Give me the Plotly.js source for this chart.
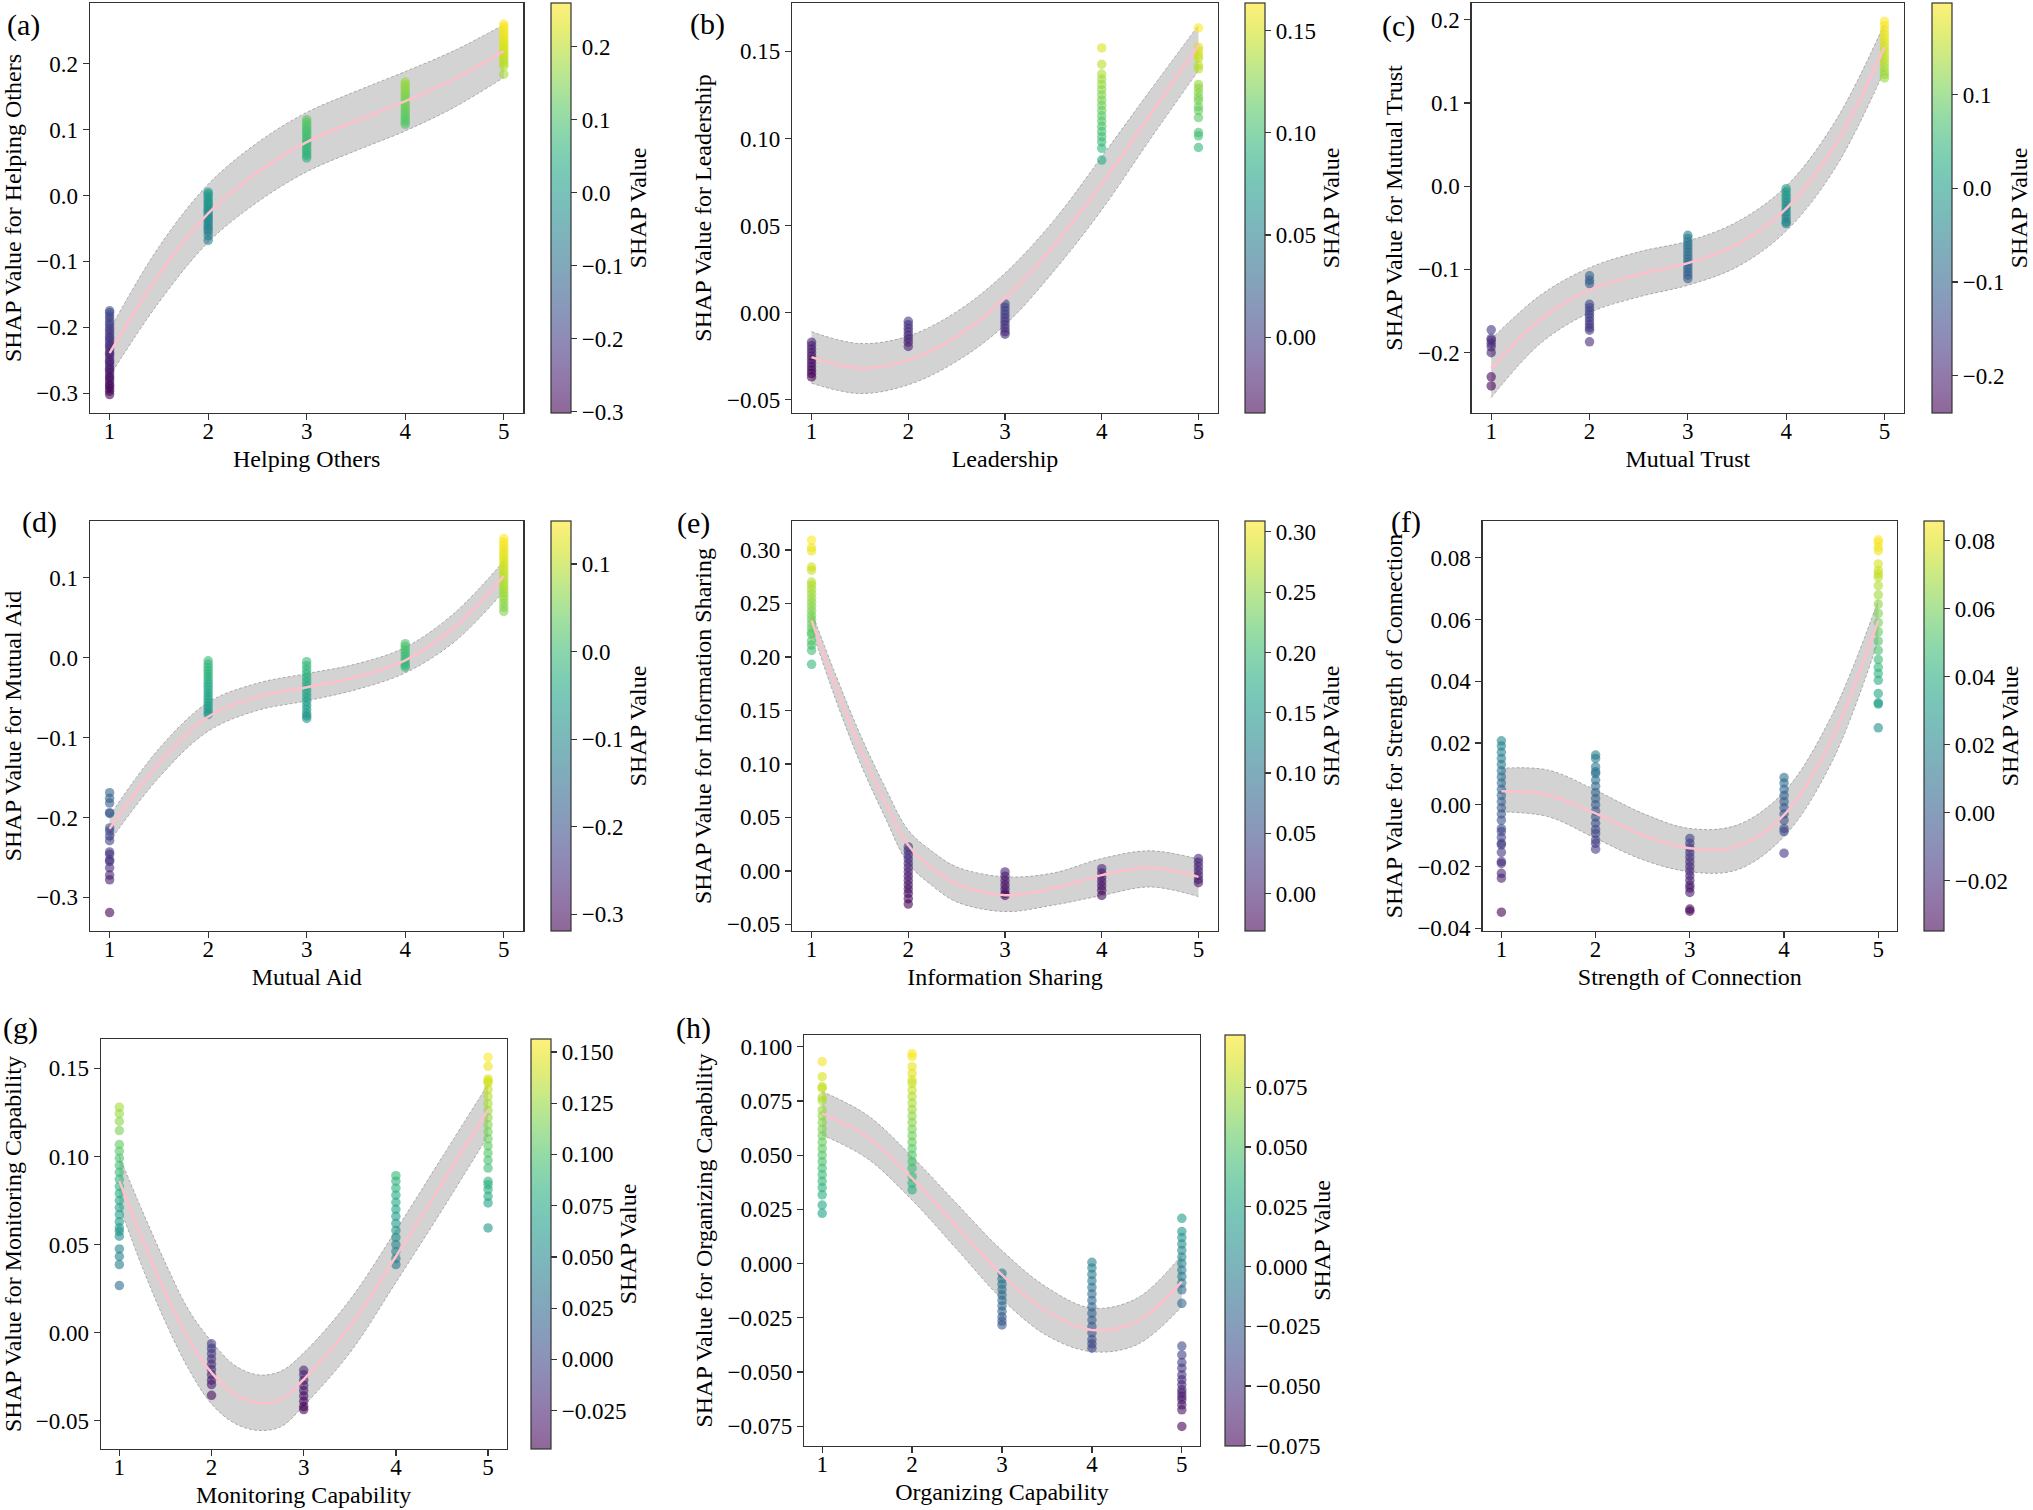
<!DOCTYPE html>
<html>
<head>
<meta charset="utf-8">
<script src="https://cdn.plot.ly/plotly-3.0.1.min.js"></script>
<style>html,body{margin:0;padding:0;background:#fff;}#chart{width:2033px;height:1510px;}</style>
</head>
<body>
<div id="chart"></div>
<script>
// ---------- data ----------
const xLevels = [1, 2, 3, 4, 5];

// SHAP values per feature level (index 0 -> level 1, ... index 4 -> level 5)
const helpingOthersShap = [
  [-0.175,-0.178,-0.183,-0.187,-0.192,-0.196,-0.201,-0.205,-0.209,-0.214,-0.217,-0.221,-0.226,-0.229,-0.233,-0.238,-0.241,-0.245,-0.250,-0.253,-0.257,-0.262,-0.265,-0.269,-0.274,-0.277,-0.281,-0.286,-0.289,-0.293,-0.297,-0.302],
  [0.005,0.002,-0.002,-0.006,-0.010,-0.013,-0.017,-0.021,-0.024,-0.028,-0.032,-0.035,-0.039,-0.043,-0.047,-0.051,-0.055,-0.061,-0.068],
  [0.115,0.111,0.107,0.103,0.099,0.096,0.092,0.088,0.084,0.080,0.077,0.073,0.069,0.065,0.061,0.057],
  [0.172,0.168,0.164,0.160,0.156,0.152,0.148,0.144,0.140,0.136,0.132,0.128,0.124,0.120,0.116,0.112,0.108],
  [0.260,0.256,0.252,0.248,0.244,0.240,0.236,0.232,0.228,0.224,0.220,0.216,0.212,0.208,0.204,0.200,0.196,0.184]
];
const leadershipShap = [
  [-0.017,-0.019,-0.021,-0.023,-0.025,-0.027,-0.029,-0.031,-0.033,-0.035,-0.037],
  [-0.005,-0.007,-0.009,-0.011,-0.013,-0.015,-0.017,-0.0195],
  [0.005,0.003,0.001,-0.001,-0.003,-0.005,-0.007,-0.009,-0.011,-0.0124],
  [0.152,0.1426,0.137,0.134,0.131,0.128,0.125,0.122,0.119,0.116,0.113,0.110,0.107,0.104,0.101,0.098,0.0943,0.0876],
  [0.1635,0.1524,0.1505,0.1477,0.146,0.142,0.140,0.131,0.1289,0.1264,0.1236,0.1217,0.1182,0.116,0.112,0.1034,0.1015,0.0948]
];
const mutualTrustShap = [
  [-0.1726,-0.183,-0.185,-0.189,-0.193,-0.200,-0.229,-0.240],
  [-0.1077,-0.113,-0.117,-0.142,-0.146,-0.150,-0.154,-0.158,-0.162,-0.166,-0.170,-0.173,-0.187],
  [-0.059,-0.063,-0.067,-0.071,-0.075,-0.079,-0.083,-0.087,-0.091,-0.095,-0.099,-0.103,-0.107,-0.111],
  [-0.003,-0.007,-0.011,-0.015,-0.019,-0.023,-0.027,-0.031,-0.035,-0.039,-0.043,-0.045],
  [0.198,0.193,0.188,0.183,0.178,0.173,0.168,0.163,0.158,0.153,0.148,0.143,0.138,0.134,0.130]
];
const mutualAidShap = [
  [-0.169,-0.176,-0.182,-0.194,-0.195,-0.213,-0.217,-0.223,-0.229,-0.243,-0.246,-0.253,-0.255,-0.263,-0.272,-0.278,-0.319],
  [-0.004,-0.008,-0.012,-0.016,-0.020,-0.024,-0.028,-0.032,-0.036,-0.040,-0.044,-0.048,-0.052,-0.056,-0.060,-0.064,-0.068,-0.071],
  [-0.005,-0.010,-0.015,-0.020,-0.025,-0.030,-0.035,-0.040,-0.045,-0.050,-0.055,-0.060,-0.065,-0.070,-0.073,-0.076],
  [0.0175,0.014,0.010,0.006,0.002,-0.002,-0.006,-0.009,-0.012],
  [0.149,0.145,0.141,0.137,0.133,0.129,0.125,0.121,0.117,0.113,0.109,0.105,0.101,0.097,0.093,0.089,0.085,0.081,0.077,0.073,0.068,0.063,0.058]
];
const infoSharingShap = [
  [0.309,0.302,0.299,0.284,0.281,0.270,0.267,0.263,0.259,0.255,0.251,0.247,0.243,0.239,0.235,0.231,0.227,0.223,0.221,0.215,0.211,0.206,0.193],
  [0.0224,0.019,0.015,0.011,0.007,0.003,-0.001,-0.005,-0.009,-0.013,-0.017,-0.021,-0.026,-0.031],
  [-0.001,-0.005,-0.009,-0.013,-0.017,-0.021,-0.023],
  [0.002,-0.002,-0.006,-0.010,-0.014,-0.018,-0.023],
  [0.0115,0.008,0.004,0.000,-0.004,-0.008,-0.011]
];
const connectionShap = [
  [0.0207,0.019,0.017,0.015,0.013,0.011,0.009,0.007,0.005,0.003,0.001,-0.001,-0.003,-0.005,-0.0077,-0.0087,-0.0106,-0.0125,-0.013,-0.0154,-0.0184,-0.019,-0.0222,-0.0238,-0.0348],
  [0.0161,0.015,0.0123,0.0107,0.0101,0.008,0.006,0.004,0.002,0.000,-0.002,-0.004,-0.006,-0.008,-0.0093,-0.0114,-0.0125,-0.0144],
  [-0.0109,-0.0125,-0.014,-0.0155,-0.017,-0.0185,-0.020,-0.0215,-0.023,-0.0245,-0.026,-0.027,-0.0284,-0.0338,-0.0345],
  [0.0088,0.007,0.005,0.003,0.001,-0.001,-0.003,-0.005,-0.0077,-0.0087,-0.0157],
  [0.0858,0.085,0.0834,0.0823,0.078,0.0759,0.0748,0.0737,0.071,0.068,0.065,0.062,0.059,0.056,0.053,0.050,0.047,0.0445,0.0425,0.0403,0.036,0.033,0.0326,0.0249]
];
const monitoringShap = [
  [0.128,0.1243,0.120,0.1147,0.1068,0.103,0.099,0.095,0.091,0.087,0.083,0.079,0.075,0.071,0.067,0.063,0.0595,0.0575,0.0547,0.0475,0.0433,0.0386,0.0267],
  [-0.0064,-0.009,-0.012,-0.015,-0.018,-0.021,-0.024,-0.027,-0.0295,-0.0356],
  [-0.0214,-0.024,-0.027,-0.030,-0.033,-0.036,-0.039,-0.042,-0.0437],
  [0.0891,0.086,0.082,0.078,0.074,0.070,0.066,0.062,0.058,0.054,0.050,0.046,0.042,0.0386],
  [0.1563,0.1512,0.144,0.1427,0.1418,0.138,0.134,0.130,0.126,0.122,0.118,0.114,0.110,0.106,0.1019,0.0978,0.0934,0.0859,0.084,0.0812,0.0774,0.0736,0.0594]
];
const organizingShap = [
  [0.0931,0.0862,0.0816,0.0808,0.0766,0.0751,0.0708,0.068,0.065,0.062,0.059,0.056,0.053,0.050,0.047,0.044,0.041,0.038,0.035,0.0317,0.027,0.0232],
  [0.0969,0.0954,0.0908,0.0877,0.0846,0.0831,0.080,0.077,0.074,0.071,0.068,0.065,0.062,0.059,0.056,0.053,0.050,0.047,0.044,0.0401,0.037,0.034],
  [-0.0045,-0.007,-0.0095,-0.012,-0.0145,-0.017,-0.0195,-0.022,-0.0245,-0.0265,-0.0283],
  [0.0006,-0.002,-0.005,-0.008,-0.011,-0.014,-0.017,-0.020,-0.023,-0.026,-0.029,-0.032,-0.035,-0.037,-0.039],
  [0.0209,0.0148,0.012,0.009,0.006,0.003,0.000,-0.003,-0.006,-0.009,-0.0121,-0.0183,-0.038,-0.0421,-0.0456,-0.0482,-0.0513,-0.0536,-0.0559,-0.0582,-0.0597,-0.0613,-0.0628,-0.0651,-0.0674,-0.0751]
];

// fitted curves and confidence bands (read at these x positions)
const fitX = [1, 1.5, 2, 2.5, 3, 3.5, 4, 4.5, 5];
const fitXE = [1, 1.25, 1.5, 1.75, 2, 2.25, 2.5, 3, 3.5, 4, 4.5, 5];
const fitXG = [1, 1.25, 1.5, 1.75, 2, 2.25, 2.5, 2.75, 3, 3.5, 4, 4.5, 5];

const fitA = [-0.239,-0.120,-0.027,0.035,0.081,0.113,0.143,0.177,0.219];
const upA  = [-0.204,-0.078,0.017,0.080,0.126,0.158,0.188,0.220,0.259];
const loA  = [-0.274,-0.162,-0.071,-0.010,0.036,0.068,0.098,0.134,0.179];

const fitB = [-0.0256,-0.0320,-0.0272,-0.0138,0.0082,0.0380,0.0742,0.1135,0.1535];
const upB  = [-0.0110,-0.0178,-0.0135,0.0005,0.0226,0.0525,0.0895,0.1275,0.1650];
const loB  = [-0.0406,-0.0465,-0.0415,-0.0280,-0.0071,0.0235,0.0590,0.0995,0.1390];

const fitC = [-0.219,-0.160,-0.125,-0.106,-0.0925,-0.070,-0.027,0.050,0.167];
const upC  = [-0.184,-0.131,-0.098,-0.079,-0.066,-0.043,0.000,0.078,0.195];
const loC  = [-0.254,-0.189,-0.152,-0.133,-0.119,-0.097,-0.054,0.022,0.139];

const fitD = [-0.214,-0.132,-0.074,-0.049,-0.037,-0.024,-0.0033,0.038,0.102];
const upD  = [-0.198,-0.114,-0.056,-0.032,-0.020,-0.008,0.013,0.056,0.121];
const loD  = [-0.230,-0.150,-0.092,-0.066,-0.054,-0.040,-0.019,0.020,0.083];

const fitE = [0.234,0.172,0.1156,0.0656,0.024,0.0022,-0.012,-0.0228,-0.0165,-0.004,0.0028,-0.0056];
const upE  = [0.242,0.183,0.128,0.080,0.038,0.018,0.0037,-0.0056,-0.002,0.0115,0.0187,0.011];
const loE  = [0.226,0.160,0.1015,0.052,0.0069,-0.014,-0.029,-0.038,-0.032,-0.023,-0.015,-0.024];

const fitF = [0.0044,0.0031,-0.0028,-0.0098,-0.0141,-0.0135,-0.0033,0.0209,0.0597];
const upF  = [0.0118,0.0112,0.0047,-0.0028,-0.0077,-0.0066,0.0042,0.0285,0.0662];
const loF  = [-0.0023,-0.0039,-0.0109,-0.0178,-0.0217,-0.0211,-0.0103,0.0134,0.0532];

const fitG = [0.0861,0.0530,0.0227,-0.0038,-0.0227,-0.0350,-0.0398,-0.0379,-0.0265,0.0035,0.0432,0.0845,0.1264];
const upG  = [0.1000,0.0690,0.0395,0.0130,-0.0050,-0.0185,-0.0240,-0.0220,-0.0115,0.0185,0.0580,0.0995,0.1410];
const loG  = [0.0720,0.0370,0.0060,-0.0205,-0.0405,-0.0515,-0.0555,-0.0535,-0.0415,-0.0115,0.0285,0.0695,0.1118];

const fitH = [0.0693,0.0585,0.0393,0.0170,-0.0052,-0.0221,-0.0306,-0.0267,-0.0083];
const upH  = [0.0793,0.0685,0.0493,0.0275,0.0060,-0.0110,-0.0205,-0.0160,0.0040];
const loH  = [0.0593,0.0485,0.0293,0.0065,-0.0164,-0.0332,-0.0406,-0.0374,-0.0198];

// ---------- layout configuration ----------
const W = 2033, H = 1510;
const panels = [
  {lbl:'(a)', xt:'Helping Others', yt:'SHAP Value for Helping Others', shap:helpingOthersShap, fx:fitX, fy:fitA, up:upA, lo:loA,
   dom:[90,524,3,413], cb:552, yr:[-0.330,0.292], yd:0.1, yf:'.1f', cbd:0.1, cbf:'.1f', lx:24, ly:25},
  {lbl:'(b)', xt:'Leadership', yt:'SHAP Value for Leadership', shap:leadershipShap, fx:fitX, fy:fitB, up:upB, lo:loB,
   dom:[793,1219,3,413], cb:1246, yr:[-0.0577,0.1778], yd:0.05, yf:'.2f', cbd:0.05, cbf:'.2f', lx:708, ly:24},
  {lbl:'(c)', xt:'Mutual Trust', yt:'SHAP Value for Mutual Trust', shap:mutualTrustShap, fx:fitX, fy:fitC, up:upC, lo:loC,
   dom:[1473,1906,3,413], cb:1934, yr:[-0.2725,0.220], yd:0.1, yf:'.1f', cbd:0.1, cbf:'.1f', lx:1400, ly:26},
  {lbl:'(d)', xt:'Mutual Aid', yt:'SHAP Value for Mutual Aid', shap:mutualAidShap, fx:fitX, fy:fitD, up:upD, lo:loD,
   dom:[90,524,521,931], cb:552, yr:[-0.342,0.171], yd:0.1, yf:'.1f', cbd:0.1, cbf:'.1f', lx:40, ly:522},
  {lbl:'(e)', xt:'Information Sharing', yt:'SHAP Value for Information Sharing', shap:infoSharingShap, fx:fitXE, fy:fitE, up:upE, lo:loE,
   dom:[793,1219,521,931], cb:1246, yr:[-0.0562,0.327], yd:0.05, yf:'.2f', cbd:0.05, cbf:'.2f', lx:694, ly:523},
  {lbl:'(f)', xt:'Strength of Connection', yt:'SHAP Value for Strength of Connection', shap:connectionShap, fx:fitX, fy:fitF, up:upF, lo:loF,
   dom:[1484,1899,521,931], cb:1926, yr:[-0.0409,0.0919], yd:0.02, yf:'.2f', cbd:0.02, cbf:'.2f', lx:1407, ly:522},
  {lbl:'(g)', xt:'Monitoring Capability', yt:'SHAP Value for Monitoring Capability', shap:monitoringShap, fx:fitXG, fy:fitG, up:upG, lo:loG,
   dom:[101,507,1039,1449], cb:532, yr:[-0.0661,0.1667], yd:0.05, yf:'.2f', cbd:0.025, cbf:'.3f', lx:21, ly:1028},
  {lbl:'(h)', xt:'Organizing Capability', yt:'SHAP Value for Organizing Capability', shap:organizingShap, fx:fitX, fy:fitH, up:upH, lo:loH,
   dom:[805,1201,1035,1446], cb:1226, yr:[-0.0841,0.1054], yd:0.025, yf:'.3f', cbd:0.025, cbf:'.3f', lx:694, ly:1028}
];

const viridis = ['#440154','#48186a','#472d7b','#424086','#3b528b','#33638d','#2c728e','#26828e','#21918c','#1fa088','#28ae80','#3fbc73','#5ec962','#84d44b','#addc30','#d8e219','#fde725'];
function hexA(h, a){ const n=parseInt(h.slice(1),16); return 'rgba('+((n>>16)&255)+','+((n>>8)&255)+','+(n&255)+','+a+')'; }
const viridisAlpha = viridis.map((c,i)=>[i/(viridis.length-1), hexA(c,0.6)]);

const FONT = 'Liberation Serif, Times New Roman, serif';
const AX = '#333333';
const traces = [];
const layout = {
  width: W, height: H, margin:{l:0,r:0,t:0,b:0}, showlegend:false,
  paper_bgcolor:'#ffffff', plot_bgcolor:'#ffffff',
  font:{family:FONT, size:23, color:'#000'},
  annotations:[]
};

panels.forEach((p, k) => {
  const n = k === 0 ? '' : String(k+1);
  const xa = 'x'+n, ya = 'y'+n;
  const [l, r, t, b] = p.dom;
  layout['xaxis'+n] = {
    domain:[l/W, r/W], anchor:ya, range:[0.8,5.2], tickvals:xLevels, ticktext:xLevels.map(String),
    showline:true, mirror:true, linecolor:AX, linewidth:1.3, ticks:'outside', ticklen:6, tickwidth:1.3, tickcolor:AX,
    ticklabelstandoff:-9,
    showgrid:false, zeroline:false, automargin:false, tickfont:{size:23, family:FONT, color:'#000'},
    title:{text:p.xt, font:{size:24, family:FONT, color:'#000'}, standoff:7}
  };
  layout['yaxis'+n] = {
    domain:[1-b/H, 1-t/H], anchor:xa, range:p.yr, tick0:0, dtick:p.yd, tickformat:p.yf,
    showline:true, mirror:true, linecolor:AX, linewidth:1.3, ticks:'outside', ticklen:6, tickwidth:1.3, tickcolor:AX,
    showgrid:false, zeroline:false, automargin:false, tickfont:{size:23, family:FONT, color:'#000'},
    title:{text:p.yt, font:{size:24, family:FONT, color:'#000'}, standoff:8}
  };

  // confidence band
  traces.push({x:p.fx, y:p.lo, xaxis:xa, yaxis:ya, mode:'lines', type:'scatter', hoverinfo:'skip',
    line:{color:'#a8a8a8', width:1, dash:'3px,2px', shape:'spline', smoothing:1}});
  traces.push({x:p.fx, y:p.up, xaxis:xa, yaxis:ya, mode:'lines', type:'scatter', hoverinfo:'skip',
    fill:'tonexty', fillcolor:'#d3d3d3',
    line:{color:'#a8a8a8', width:1, dash:'3px,2px', shape:'spline', smoothing:1}});

  // points
  const px = [], py = [];
  p.shap.forEach((vals, i) => vals.forEach(v => { px.push(xLevels[i]); py.push(v); }));
  traces.push({x:px, y:py, xaxis:xa, yaxis:ya, mode:'markers', type:'scatter',
    marker:{size:9.5, color:py, colorscale:viridisAlpha, showscale:true, line:{width:0},
      colorbar:{x:p.cb/W, xanchor:'left', xref:'paper', y:1-(t+b)/2/H, yanchor:'middle', yref:'paper',
        len:(b-t)/H, lenmode:'fraction', thickness:20, thicknessmode:'pixels', xpad:0, ypad:0,
        outlinewidth:1.2, outlinecolor:AX, ticks:'outside', ticklen:6, tickwidth:1.2, tickcolor:AX,
        tick0:0, dtick:p.cbd, tickformat:p.cbf, tickfont:{size:23, family:FONT, color:'#000'},
        title:{text:'SHAP Value', side:'right', font:{size:24, family:FONT, color:'#000'}}}}});

  // fitted line
  traces.push({x:p.fx, y:p.fy, xaxis:xa, yaxis:ya, mode:'lines', type:'scatter', hoverinfo:'skip',
    line:{color:'#ffc0cb', width:2.5, shape:'spline', smoothing:1}});

  layout.annotations.push({text:p.lbl, x:p.lx/W, y:1-p.ly/H, xref:'paper', yref:'paper',
    xanchor:'center', yanchor:'middle', showarrow:false, font:{size:30, family:FONT, color:'#000'}});
});

Plotly.newPlot('chart', traces, layout, {staticPlot:true, displayModeBar:false});
</script>
</body>
</html>
